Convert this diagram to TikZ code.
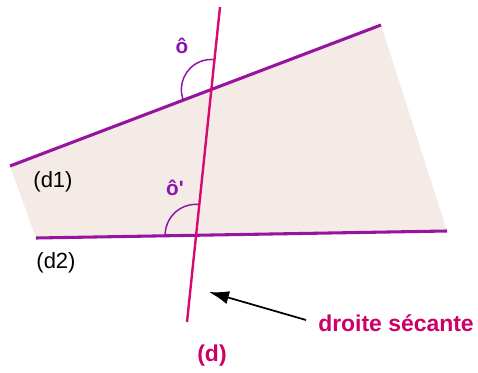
\documentclass[tikz,border=0pt]{standalone}
\usepackage{fontspec}
\setmainfont{Liberation Sans}
\usetikzlibrary{arrows.meta}
\definecolor{lpurple}{RGB}{150,20,160}
\definecolor{dmag}{RGB}{215,10,115}
\definecolor{tmag}{RGB}{204,0,102}
\definecolor{tpurple}{RGB}{140,20,170}
\definecolor{fillc}{RGB}{244,234,230}
\begin{document}
\begin{tikzpicture}[x=0.75pt,y=0.75pt,
  parline/.style={draw=lpurple,line width=2.3pt},
  secline/.style={draw=dmag,line width=1.8pt},
  anglearc/.style={draw=tpurple,line width=1.1pt},
  anglbl/.style={font=\fontsize{15.5}{15.5}\selectfont\bfseries,text=tpurple,inner sep=0pt},
  dlbl/.style={font=\fontsize{16.5}{16.5}\selectfont,text=black,inner sep=0pt},
  seclbl/.style={font=\fontsize{17.2}{17.2}\selectfont\bfseries,text=tmag,inner sep=0pt},
  pointer/.style={draw=black,line width=1.3pt,-{Latex[length=15pt,width=10pt]}}]
\useasboundingbox (0,0) rectangle (478,372);
\fill[white] (0,0) rectangle (478,372);
% points
\coordinate (A) at (10,206);
\coordinate (B) at (381,347);
\coordinate (C) at (447,141);
\coordinate (D) at (36,134);
\coordinate (E) at (220,365);
\coordinate (F) at (187,50);
% region
\fill[fillc] (A) -- (B) -- (C) -- (D) -- cycle;
% intersections
\coordinate (I1) at (intersection of A--B and E--F);
\coordinate (I2) at (intersection of D--C and E--F);
% arcs
\draw[anglearc] ([shift={(200.8:30)}]I1) arc (200.8:84:30);
\draw[anglearc] ([shift={(181:31)}]I2) arc (181:84:31);
% lines
\draw[parline] (A) -- (B);
\draw[parline] (D) -- (C);
\draw[secline] (E) -- (F);
% labels
\node[anglbl] (o1) at (182,326) {ô};
\node[anglbl] (o2) at (175,184) {ô\textquotesingle};
\node[dlbl] (d1) at (53,190) {(d1)};
\node[dlbl] (d2) at (56,109) {(d2)};
\node[seclbl] (dd) at (212,16) {(d)};
\node[seclbl] (sec) at (396,49) {droite sécante};
\coordinate (tail) at (306,52);
\coordinate (tip) at (209,80);
\draw[pointer] (tail) -- (tip);
\end{tikzpicture}
\end{document}
